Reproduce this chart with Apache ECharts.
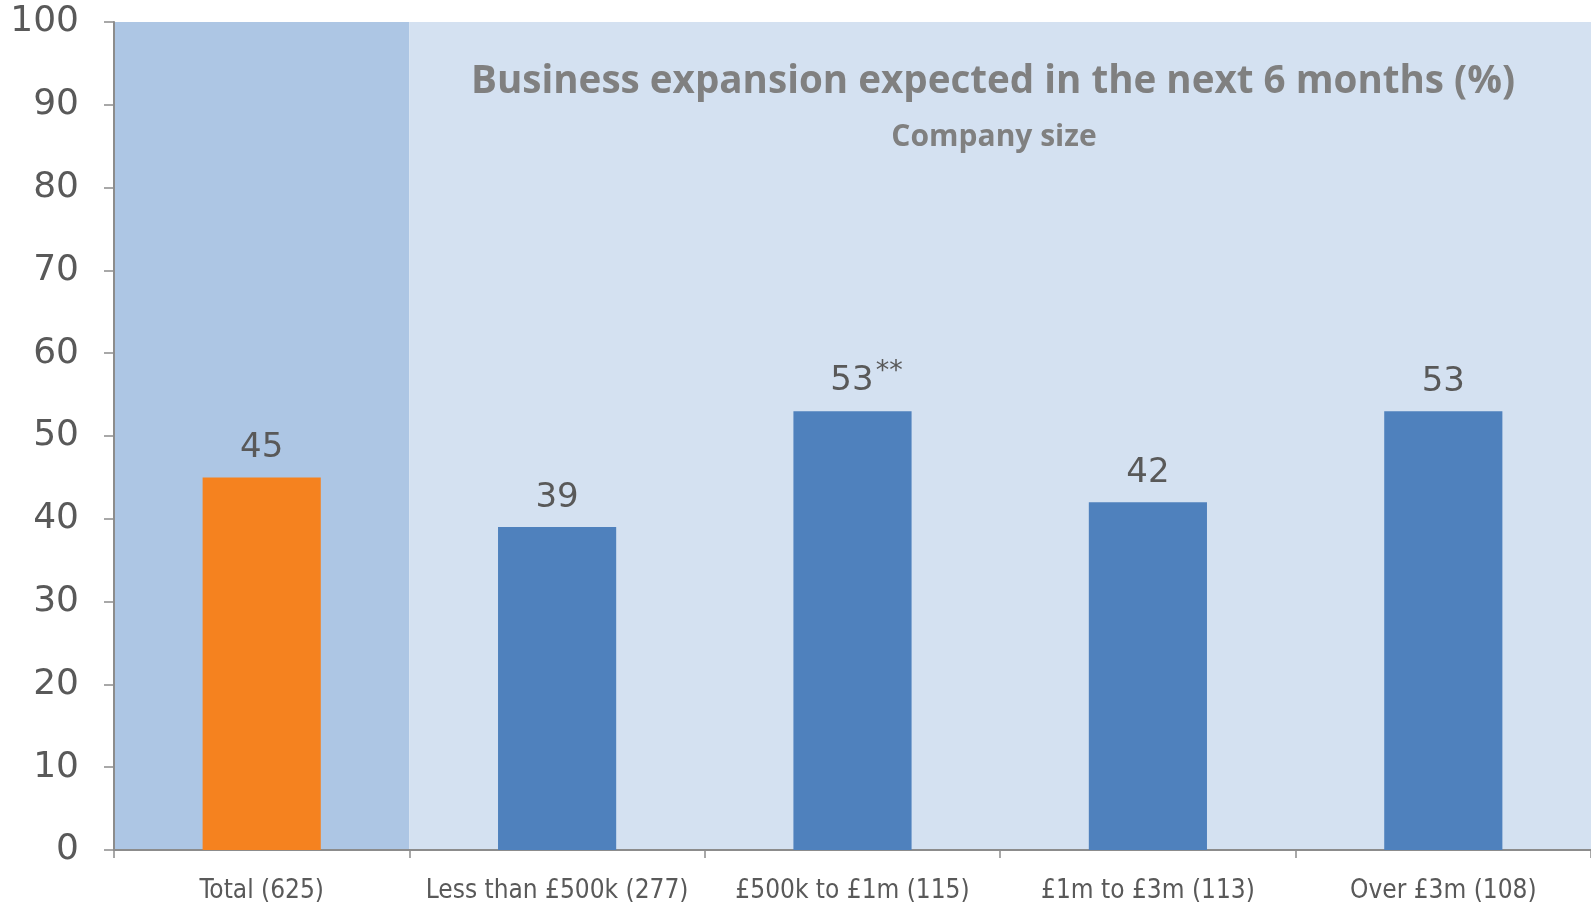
<!DOCTYPE html>
<html>
<head>
<meta charset="utf-8">
<title>Business expansion expected in the next 6 months</title>
<script src="https://cdn.jsdelivr.net/npm/echarts@6/dist/echarts.min.js"></script>
<style>
  html, body { margin: 0; padding: 0; background: #ffffff; }
  #chart { width: 1591px; height: 904px; }
</style>
</head>
<body>
<div id="chart"></div>
<script>
// Company size groups (sample size in brackets)
const categories = ['Total (625)', 'Less than £500k (277)', '£500k to £1m (115)', '£1m to £3m (113)', 'Over £3m (108)'];
// Share expecting business expansion, %
const values = [45, 39, 53, 42, 53];
// Significance markers shown next to a value
const notes = ['', '', '**', '', ''];
// Bar fill per group: the total stands out from the size breakdown
const barColors = ['#F5821F', '#4F81BD', '#4F81BD', '#4F81BD', '#4F81BD'];
// Band fills behind each group
const bandColors = ['#ADC6E4', '#D4E1F1', '#D4E1F1', '#D4E1F1', '#D4E1F1'];

const chart = echarts.init(document.getElementById('chart'), null, { renderer: 'canvas' });

const NOTE_W = 28;

chart.setOption({
  animation: false,
  backgroundColor: '#ffffff',
  title: [{
    text: 'Business expansion expected in the next 6 months (%)',
    left: 988, top: 58, textAlign: 'center',
    textStyle: { fontFamily: 'Open Sans', fontWeight: 'bold', fontSize: 38.6, color: '#808080' }
  }, {
    text: 'Company size',
    left: 989, top: 117, textAlign: 'center',
    textStyle: { fontFamily: 'Open Sans', fontWeight: 'bold', fontSize: 30, color: '#808080' }
  }],
  grid: { left: 114, right: 0, top: 22, bottom: 51, containLabel: false },
  xAxis: {
    type: 'category',
    data: categories,
    boundaryGap: true,
    axisLine: { lineStyle: { color: '#8c8c8c', width: 2 } },
    axisTick: { show: true, length: 8, alignWithLabel: false, lineStyle: { color: '#8c8c8c', width: 1.5 } },
    axisLabel: { margin: 28, fontFamily: 'Liberation Sans Narrow, DejaVu Sans Condensed, sans-serif', fontSize: 26, color: '#595959', interval: 0 },
    splitArea: { show: true, areaStyle: { color: bandColors } }
  },
  yAxis: {
    type: 'value',
    min: 0, max: 100, interval: 10,
    axisLine: { show: true, lineStyle: { color: '#8c8c8c', width: 2 } },
    axisTick: { show: true, length: 10, lineStyle: { color: '#8c8c8c', width: 1.5 } },
    axisLabel: { margin: 35, fontFamily: 'DejaVu Sans', fontSize: 36, color: '#595959' },
    splitLine: { show: false }
  },
  series: [{
    type: 'bar',
    barWidth: '40%',
    z: 3,
    data: values.map((v, i) => ({
      value: v,
      itemStyle: { color: barColors[i] },
      // the raised marker makes the label box taller; pull it back onto the common baseline
      label: notes[i] ? { offset: [0, 6] } : undefined
    })),
    label: {
      show: true,
      position: 'top',
      distance: 12,
      fontFamily: 'DejaVu Sans',
      fontSize: 34,
      color: '#595959',
      formatter: p => notes[p.dataIndex]
        ? '{v|' + p.value + '}{s|' + notes[p.dataIndex] + '}'
        : '{n|' + p.value + '}',
      rich: {
        n: { fontFamily: 'DejaVu Sans', fontSize: 34, color: '#595959' },
        v: { fontFamily: 'DejaVu Sans', fontSize: 34, color: '#595959', padding: [0, 0, 0, NOTE_W] },
        s: { fontFamily: 'DejaVu Sans', fontSize: 27, color: '#595959', verticalAlign: 'top', padding: [0, 0, 20, 2] }
      }
    }
  }]
});
</script>
</body>
</html>
